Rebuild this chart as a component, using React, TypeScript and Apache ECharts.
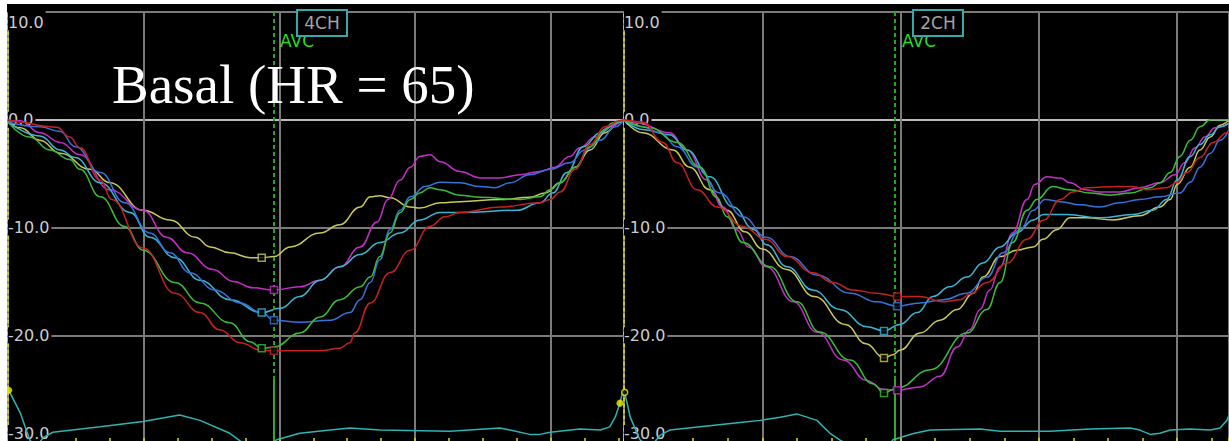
import React, { useEffect, useRef } from 'react';
import * as echarts from 'echarts';

// ---------- data ----------
const CURVE_NAMES = ['yellow', 'magenta', 'cyan', 'blue', 'green', 'red'];
const Y_MIN = -30;
const Y_MAX = 10;
const Y_STEP = 10;
const GRID_STEP_MS = 200;
const TICK_STEP_MS = 50;
const P1_END_MS = 908;
const P2_END_MS = 875;
const AVC_MS = 392;
const TITLE = 'Basal (HR = 65)';
const P1_VIEW = '4CH';
const P2_VIEW = '2CH';
const AVC_LABEL = 'AVC';

// panel 1 (4CH) strain curves [ms, %]
const p1Yellow = [[0,-0.2],[18,-0.75],[47,-1.9],[77,-3.1],[121,-4.6],[150,-5.85],[199,-8.4],[239,-9.3],[276,-10.9],[298,-11.8],[327,-12.35],[357,-12.8],[374,-12.8],[392,-12.7],[416,-11.8],[460,-10.5],[489,-9.75],[519,-8.1],[534,-7.15],[548,-7.05],[563,-7.24],[593,-8.1],[607,-8.2],[637,-7.7],[666,-7.6],[725,-7.4],[769,-7.2],[792,-6.8],[814,-5.85],[836,-4.4],[858,-2.8],[880,-1.2],[902,-0.2],[908,0]];
const p1Magenta = [[0,-0.2],[18,-0.1],[47,-1.2],[77,-2.1],[106,-3.25],[150,-6.5],[199,-8.4],[234,-10.9],[264,-12.35],[302,-13.9],[332,-15.0],[361,-15.6],[392,-15.8],[430,-15.5],[460,-14.9],[489,-13.65],[519,-11.8],[544,-9.5],[560,-7.4],[578,-5.6],[593,-4.4],[607,-3.4],[622,-3.25],[637,-3.9],[666,-4.8],[696,-5.4],[725,-5.4],[755,-5.1],[784,-4.8],[806,-4.4],[828,-3.4],[843,-2.6],[865,-1.6],[887,-0.65],[905,0]];
const p1Cyan = [[0,-0.2],[47,-1.5],[77,-2.8],[99,-3.5],[136,-5.85],[180,-8.6],[209,-10.9],[246,-12.8],[283,-14.9],[327,-16.7],[374,-17.9],[401,-17.5],[430,-16.4],[460,-14.9],[489,-13.65],[519,-12.5],[548,-11.4],[578,-10.5],[607,-9.3],[637,-8.6],[677,-8.6],[750,-8.4],[784,-7.7],[803,-6.8],[824,-4.9],[848,-2.5],[873,-1.2],[898,-0.3],[908,0]];
const p1Blue = [[0,-0.2],[47,-0.65],[77,-1.1],[99,-2.5],[136,-4.9],[172,-7.7],[209,-10.5],[239,-12.35],[268,-14.2],[305,-15.8],[342,-17.0],[374,-17.9],[392,-18.6],[430,-18.8],[475,-18.6],[504,-17.9],[519,-16.7],[534,-15.1],[548,-13.0],[563,-10.2],[578,-8.4],[593,-7.15],[615,-6.2],[637,-5.8],[666,-5.85],[696,-6.2],[718,-6.3],[740,-5.85],[769,-5.1],[799,-4.6],[828,-4.0],[850,-2.8],[873,-1.9],[895,-0.65],[908,0]];
const p1Green = [[0,-0.2],[32,-1.6],[62,-2.8],[91,-3.7],[106,-4.6],[136,-7.15],[172,-9.9],[199,-12.1],[246,-15.1],[283,-17.0],[327,-18.85],[357,-20.6],[374,-21.2],[392,-21.1],[430,-19.8],[460,-18.3],[489,-16.7],[519,-15.5],[534,-14.6],[548,-12.7],[563,-10.5],[578,-8.6],[593,-7.4],[607,-6.8],[622,-6.3],[637,-6.5],[666,-7.0],[696,-7.2],[755,-7.4],[784,-7.15],[799,-6.5],[814,-5.85],[836,-4.4],[858,-2.5],[880,-0.9],[890,-0.3],[905,0]];
const p1Red = [[0,0],[18,-0.2],[55,-0.6],[72,-0.7],[91,-1.6],[106,-2.6],[136,-5.6],[153,-7.4],[199,-11.9],[246,-16.1],[283,-17.9],[312,-19.5],[342,-20.7],[374,-21.4],[392,-21.45],[460,-21.45],[489,-21.2],[504,-20.7],[511,-19.8],[534,-17.0],[563,-14.2],[593,-12.1],[622,-9.9],[644,-9.0],[666,-8.6],[725,-8.1],[784,-7.7],[799,-7.4],[814,-6.7],[836,-4.6],[858,-2.3],[880,-0.65],[902,-0.1],[908,0]];
const p1Marks = [[374,-12.8],[392,-15.8],[374,-17.9],[392,-18.6],[374,-21.2],[392,-21.45]];
const p1Ecg = [[1,-25.1],[18,-27.2],[32,-29.7],[41,-30.4],[52,-29.5],[66,-29.0],[136,-28.5],[199,-28.0],[253,-27.4],[283,-27.9],[327,-29.1],[342,-29.8],[360,-30.4],[380,-30.5],[396,-29.7],[430,-29.1],[475,-28.8],[504,-28.6],[548,-28.8],[651,-28.9],[725,-28.6],[740,-28.8],[769,-29.2],[784,-29.2],[799,-29.0],[843,-28.7],[873,-28.8],[887,-28.5],[895,-27.6],[902,-26.3],[906,-25.3],[908,-25.2]];
const p1EcgDots = [[1,-25.1],[902,-26.3]];

// panel 2 (2CH) strain curves [ms, %]
const p2Yellow = [[0,0],[27,-1.2],[71,-2.8],[95,-4.4],[124,-6.5],[149,-8.4],[175,-10.4],[200,-12.0],[235,-13.9],[275,-16.4],[320,-19.0],[350,-20.8],[376,-22.1],[389,-21.8],[399,-21.4],[428,-19.8],[457,-18.6],[482,-17.6],[505,-16.1],[519,-14.6],[544,-12.7],[568,-12.1],[592,-11.8],[606,-11.1],[626,-10.2],[645,-9.1],[669,-9.1],[707,-9.3],[746,-8.9],[775,-8.1],[790,-7.4],[800,-6.0],[819,-4.4],[833,-2.8],[848,-1.6],[862,-0.5],[875,0]];
const p2Magenta = [[0,0],[19,-0.3],[66,-1.2],[91,-2.8],[120,-5.6],[143,-8.1],[163,-10.2],[180,-11.8],[206,-13.65],[245,-16.9],[279,-19.7],[317,-22.3],[351,-24.2],[374,-25.0],[395,-25.1],[428,-24.8],[457,-23.8],[482,-21.1],[500,-19.5],[515,-17.6],[529,-15.8],[544,-13.65],[562,-10.5],[583,-7.4],[594,-6.0],[612,-5.3],[631,-5.4],[645,-5.85],[667,-6.5],[688,-6.7],[717,-6.7],[746,-6.3],[775,-5.85],[797,-5.1],[811,-4.0],[826,-2.6],[840,-1.6],[855,-0.75],[875,-0.3]];
const p2Cyan = [[0,0],[27,-0.9],[66,-1.4],[91,-2.8],[124,-5.3],[158,-8.1],[188,-10.2],[206,-11.6],[236,-13.65],[273,-15.8],[312,-17.6],[351,-19.2],[376,-19.6],[399,-19.0],[424,-17.9],[447,-16.4],[471,-15.5],[496,-14.6],[519,-13.3],[544,-11.8],[568,-10.5],[592,-9.3],[607,-8.8],[641,-8.8],[688,-9.1],[736,-8.8],[765,-8.4],[785,-7.4],[800,-5.6],[819,-3.4],[833,-2.3],[848,-1.4],[862,-0.65],[875,-0.3]];
const p2Blue = [[0,0],[27,-0.65],[52,-1.2],[77,-2.5],[106,-4.4],[139,-6.8],[172,-9.0],[206,-10.9],[240,-12.7],[279,-14.4],[327,-16.1],[366,-16.9],[395,-17.3],[428,-17.0],[462,-16.7],[496,-16.1],[525,-14.6],[548,-12.35],[573,-10.2],[592,-8.4],[609,-7.4],[631,-7.6],[660,-7.9],[688,-8.1],[717,-7.7],[746,-7.4],[775,-7.15],[804,-6.8],[819,-5.8],[833,-4.4],[848,-3.1],[862,-1.9],[875,-0.9]];
const p2Green = [[0,0],[38,-0.75],[77,-2.1],[110,-4.4],[134,-7.2],[149,-9.0],[172,-11.4],[211,-13.65],[250,-16.9],[283,-19.7],[327,-22.3],[360,-24.5],[376,-25.35],[395,-24.9],[443,-23.2],[496,-19.8],[525,-17.6],[544,-15.1],[562,-11.4],[583,-8.4],[597,-7.4],[620,-6.2],[645,-6.5],[674,-6.8],[703,-7.0],[732,-6.8],[761,-6.3],[775,-5.85],[790,-4.9],[804,-3.4],[819,-1.9],[833,-0.65],[848,0],[875,0]];
const p2Red = [[0,0],[27,-0.2],[56,-2.1],[77,-4.0],[106,-6.5],[135,-8.1],[172,-9.9],[205,-11.1],[236,-12.7],[273,-14.2],[302,-15.1],[331,-15.8],[366,-16.1],[395,-16.4],[428,-16.4],[462,-16.9],[486,-16.7],[500,-16.2],[525,-15.1],[554,-13.3],[583,-11.1],[607,-9.3],[631,-7.4],[649,-6.7],[670,-6.3],[713,-6.2],[736,-6.2],[756,-6.5],[785,-6.3],[800,-5.8],[814,-4.9],[833,-3.5],[852,-2.1],[872,-1.2],[875,-1.1]];
const p2Marks = [[376,-22.1],[395,-25.1],[376,-19.6],[395,-17.3],[376,-25.35],[395,-16.4]];
const p2Ecg = [[1,-25.3],[9,-27.6],[23,-29.7],[38,-30.4],[52,-29.3],[66,-28.8],[110,-28.5],[168,-28.1],[197,-27.9],[226,-27.6],[250,-27.3],[279,-27.9],[298,-29.1],[312,-29.7],[330,-30.4],[380,-30.5],[389,-29.7],[420,-29.1],[443,-28.8],[515,-28.7],[544,-28.9],[616,-28.9],[674,-28.7],[732,-28.6],[746,-28.8],[761,-29.2],[775,-29.1],[790,-28.8],[819,-28.7],[848,-28.8],[862,-28.6],[872,-27.9],[875,-27.4]];
const p2EcgDots = [[1,-25.3]];

// ---------- styles ----------
const CURVE_COLORS = ['#c8c858', '#c42ec8', '#3ab4d2', '#3672d8', '#38bc38', '#c42222'];
const ECG_COLOR = '#2fb3b3';
const GRID_COLOR = '#7a7a7a';
const ZERO_COLOR = '#bcbcbc';
const LABEL_COLOR = '#cdcdcd';
const AXIS_YELLOW = '#e2e200';

export default function App() {
  const ref = useRef<HTMLDivElement>(null);

  useEffect(() => {
    if (!ref.current) return;
    const chart = echarts.init(ref.current, null, { renderer: 'svg' });

    const mainX = (gi: number, max: number) => ({
      type: 'value', gridIndex: gi, min: 0, max, interval: GRID_STEP_MS, position: 'bottom',
      axisLine: { show: false }, axisTick: { show: false }, axisLabel: { show: false },
      splitLine: { show: true, lineStyle: { color: GRID_COLOR, width: 2 } },
    });
    const tickX = (gi: number, max: number) => ({
      type: 'value', gridIndex: gi, min: 0, max, interval: TICK_STEP_MS, position: 'bottom', offset: 0,
      axisLine: { show: false },
      axisTick: { show: true, inside: true, length: 5, lineStyle: { color: AXIS_YELLOW, width: 1.5 } },
      axisLabel: { show: false }, splitLine: { show: false },
    });
    const labelText = (v: number) => {
      const s = v.toFixed(1);
      if (v === Y_MAX) return `{t|${s}}`;
      if (v === Y_MIN) return `{b|${s}}`;
      return s;
    };
    const yAx = (gi: number) => ({
      type: 'value', gridIndex: gi, min: Y_MIN, max: Y_MAX, interval: Y_STEP, position: 'left',
      axisLine: { show: true, onZero: false, lineStyle: { color: AXIS_YELLOW, width: 1.5, type: [3, 3] } },
      axisTick: { show: false },
      axisLabel: {
        inside: true, margin: 0, color: LABEL_COLOR, fontFamily: 'DejaVu Sans', fontSize: 16,
        backgroundColor: '#000', padding: [0, 2, 0, 0],
        formatter: labelText,
        rich: {
          t: { color: LABEL_COLOR, fontFamily: 'DejaVu Sans', fontSize: 16, padding: [20, 0, 0, 0] },
          b: { color: LABEL_COLOR, fontFamily: 'DejaVu Sans', fontSize: 16, padding: [0, 0, 20, 0] },
        },
      },
      splitLine: {
        show: true,
        lineStyle: {
          color: [GRID_COLOR, GRID_COLOR, GRID_COLOR, ZERO_COLOR, GRID_COLOR],
          width: 2,
        },
      },
    });

    const panel = (p: number, curves: number[][][], marks: number[][], ecg: number[][], dots: number[][], hollow: boolean) => {
      const xi = p * 2;
      const out: any[] = curves.map((d, i) => ({
        type: 'line', name: `${CURVE_NAMES[i]}-${p}`, xAxisIndex: xi, yAxisIndex: p, data: d,
        showSymbol: false, symbol: 'none', smooth: 0.45, smoothMonotone: 'x',
        lineStyle: { color: CURVE_COLORS[i], width: 1.5 }, z: 3,
      }));
      out.push({
        type: 'scatter', xAxisIndex: xi, yAxisIndex: p, symbol: 'rect', symbolSize: 7, z: 5,
        data: marks.map((m, i) => ({ value: m, itemStyle: { color: '#000', borderColor: CURVE_COLORS[i], borderWidth: 1.5 } })),
      });
      out.push({
        type: 'line', xAxisIndex: xi, yAxisIndex: p, data: ecg, showSymbol: false, symbol: 'none',
        lineStyle: { color: ECG_COLOR, width: 1.5 }, z: 2,
        markLine: {
          silent: true, symbol: ['none', 'none'], label: { show: false },
          data: [
            [{ coord: [AVC_MS, Y_MAX], lineStyle: { color: '#1ea81e', width: 2, type: [4, 3] } }, { coord: [AVC_MS, -24] }],
            [{ coord: [AVC_MS, -24], lineStyle: { color: '#3ee03e', width: 1.5, type: 'solid' } }, { coord: [AVC_MS, Y_MIN] }],
          ],
        },
      });
      out.push({
        type: 'scatter', xAxisIndex: xi, yAxisIndex: p, symbol: 'circle', z: 6,
        symbolSize: hollow ? 6 : 7,
        itemStyle: hollow ? { color: '#000', borderColor: '#f0f000', borderWidth: 1.5 } : { color: '#f0f000' },
        data: dots,
      });
      return out;
    };

    const viewBox = (x: number, label: string) => [
      { type: 'rect', z: 50, shape: { x, y: 10, width: 50, height: 26 }, style: { fill: '#000', stroke: '#35a9a9', lineWidth: 2 } },
      { type: 'text', z: 51, x: x + 25, y: 23, style: { text: label, fill: '#a4a4a4', font: '17px "DejaVu Sans"', align: 'center', verticalAlign: 'middle' } },
    ];
    const avcText = (x: number) => ({
      type: 'text', z: 49, x, y: 41,
      style: { text: AVC_LABEL, fill: '#22dd22', font: '17px "DejaVu Sans"', align: 'left', verticalAlign: 'middle' },
    });

    chart.setOption({
      animation: false,
      backgroundColor: '#000',
      grid: [
        { left: 8, top: 12, width: 616, height: 431, outerBoundsMode: 'none', containLabel: false },
        { left: 624, top: 12, width: 605, height: 431, outerBoundsMode: 'none', containLabel: false },
      ],
      xAxis: [mainX(0, P1_END_MS), tickX(0, P1_END_MS), mainX(1, P2_END_MS), tickX(1, P2_END_MS)],
      yAxis: [yAx(0), yAx(1)],
      series: [
        ...panel(0, [p1Yellow, p1Magenta, p1Cyan, p1Blue, p1Green, p1Red], p1Marks, p1Ecg, p1EcgDots, false),
        ...panel(1, [p2Yellow, p2Magenta, p2Cyan, p2Blue, p2Green, p2Red], p2Marks, p2Ecg, p2EcgDots, true),
      ],
      graphic: [
        avcText(280),
        avcText(902),
        ...viewBox(297, P1_VIEW),
        ...viewBox(913, P2_VIEW),
        { type: 'text', z: 60, x: 112, y: 84, style: { text: TITLE, fill: '#ffffff', font: '55px "Liberation Serif"', align: 'left', verticalAlign: 'middle' } },
        { type: 'rect', z: 100, shape: { x: 0, y: 0, width: 1229, height: 4 }, style: { fill: '#ffffff' } },
        { type: 'rect', z: 100, shape: { x: 0, y: 0, width: 7, height: 441 }, style: { fill: '#ffffff' } },
      ],
    });

    return () => chart.dispose();
  }, []);

  return <div ref={ref} style={{ position: 'fixed', left: 0, top: 0, width: 1229, height: 441 }} />;
}
